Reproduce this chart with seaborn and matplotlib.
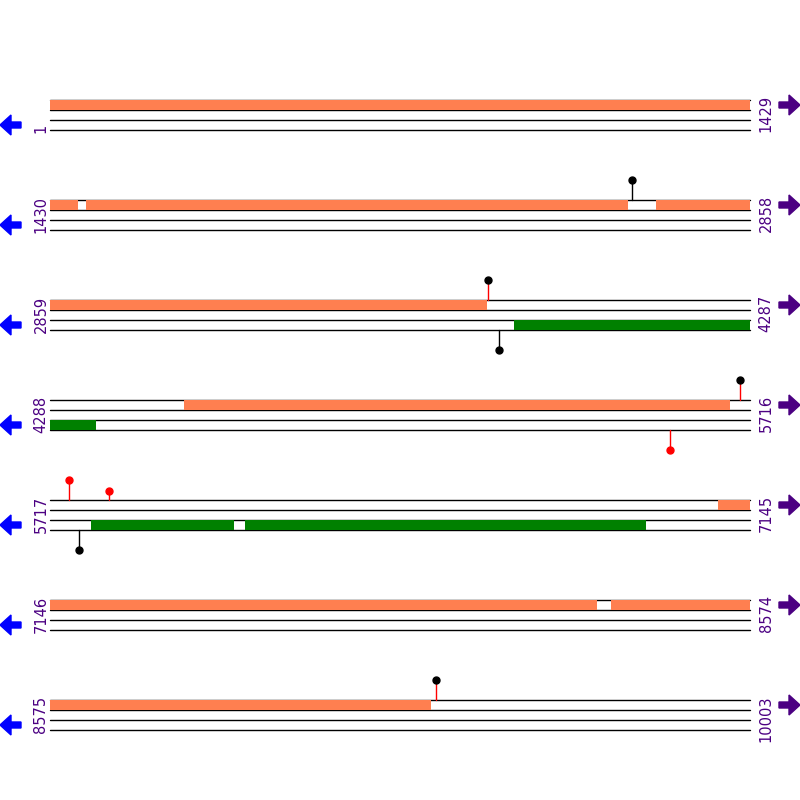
import matplotlib.pyplot as plt
import seaborn as sns

sns.set_style("white")

row_len = 1429
row_starts = [1, 1430, 2859, 4288, 5717, 7146, 8575]
row_ends = [1429, 2858, 4287, 5716, 7145, 8574, 10003]

# features (start, end) in bp
plus_features = [(1, 1487), (1503, 2608), (2667, 3751), (4562, 5676), (7080, 8262), (8292, 9351)]
minus_features = [(3806, 4380), (5800, 6092), (6116, 6932)]

# lollipops: position, strand, stem colour, head colour, height px
lollipops = [
    (2618, "+", "black", "black", 20),
    (3753, "+", "red", "black", 20),
    (3776, "-", "black", "black", 20),
    (5696, "+", "red", "black", 20),
    (5554, "-", "red", "red", 20),
    (5755, "+", "red", "red", 20),
    (5838, "+", "red", "red", 9),
    (5777, "-", "black", "black", 20),
    (9363, "+", "red", "black", 20),
]

PX = 700 / row_len


def locate(bp):
    r = min((bp - 1) // row_len, len(row_starts) - 1)
    return r, 50 + (bp - row_starts[r]) * PX


fig = plt.figure(figsize=(8, 8), dpi=100)
ax = fig.add_axes([0, 0, 1, 1])
ax.set_xlim(0, 800)
ax.set_ylim(800, 0)
ax.axis("off")

for r in range(len(row_starts)):
    top = 100 + 100 * r
    for dy in (0, 10, 20, 30):
        ax.plot([50, 750], [top + dy, top + dy], color="black", lw=1, zorder=1)
    ax.text(41, top + 33, str(row_starts[r]), rotation=90, ha="center", va="bottom",
            color="#4B0082", fontsize=10.5)
    ax.text(766, top - 5, str(row_ends[r]), rotation=90, ha="center", va="top",
            color="#4B0082", fontsize=10.5)
    ax.arrow(21, top + 25, -21, 0, width=6, head_width=20, head_length=11,
             length_includes_head=True, color="blue", zorder=3)
    ax.arrow(779, top + 5, 21, 0, width=6, head_width=20, head_length=11,
             length_includes_head=True, color="#4B0082", zorder=3)


def draw(features, off, color):
    for s, e in features:
        bp = s
        while bp <= e:
            r, x0 = locate(bp)
            seg_end = min(e, row_ends[r])
            x1 = 50 + (seg_end - row_starts[r] + 1) * PX
            top = 100 + 100 * r + off
            ax.fill_between([x0, min(x1, 750)], top, top + 10, color=color, lw=0, zorder=2)
            bp = seg_end + 1


draw(plus_features, 0, "#FF7F50")
draw(minus_features, 20, "#008000")

for pos, strand, stem, head, h in lollipops:
    r, x = locate(pos)
    top = 100 + 100 * r
    if strand == "+":
        y0, y1 = top, top - h
    else:
        y0, y1 = top + 30, top + 30 + h
    ax.plot([x, x], [y0, y1], color=stem, lw=1, zorder=4)
    ax.plot(x, y1, "o", color=head, ms=5, zorder=5)

fig.savefig("out.png", dpi=100)
